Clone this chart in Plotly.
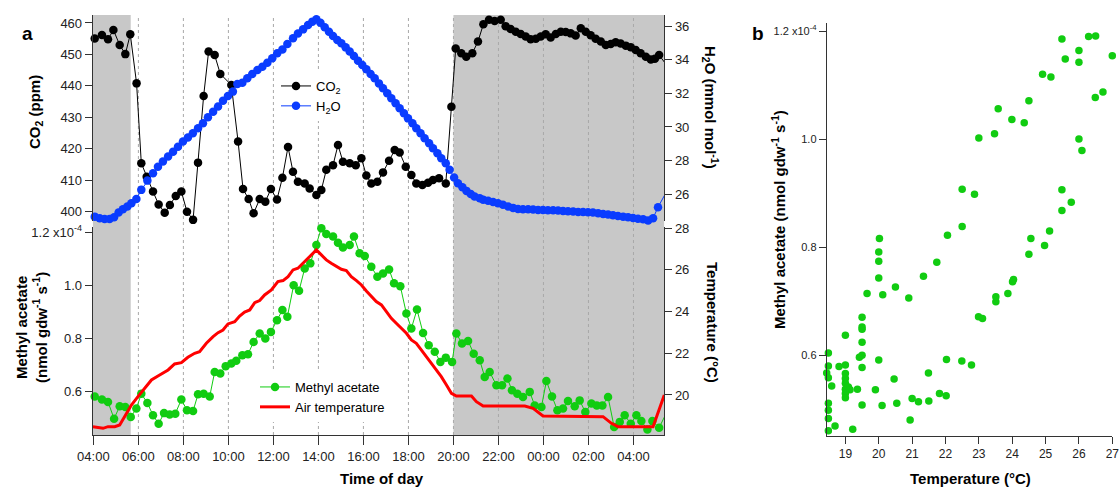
import plotly.graph_objects as go

W, H = 1120, 489
def px_x(p): return p / W
def px_y(p): return 1 - p / H

# ---------------- DATA (time = decimal hours since 00:00 of day 1; >24 = next day) ----
co2_time = [4.06, 4.38, 4.65, 4.89, 5.17, 5.42, 5.64, 5.92, 6.13, 6.37, 6.65, 6.90, 7.17, 7.40,
            7.66, 7.91, 8.16, 8.43, 8.65, 8.90, 9.12, 9.39, 9.64, 10.13, 10.43, 10.65, 10.90,
            11.12, 11.39, 11.64, 11.89, 12.16, 12.40, 12.65, 12.87, 13.09, 13.39, 13.61, 13.91,
            14.13, 14.35, 14.65, 14.87, 15.09, 15.39, 15.66, 15.91, 16.13, 16.35, 16.62, 16.87,
            17.14, 17.39, 17.61, 17.88, 18.13, 18.35, 18.62, 18.87, 19.09, 19.36, 19.66, 19.91,
            20.10, 20.35, 20.57, 20.84, 21.09, 21.33, 21.58, 21.83, 22.10, 22.32, 22.54, 22.77,
            22.99, 23.21, 23.43, 23.66, 23.88, 24.10, 24.32, 24.55, 24.77, 24.99, 25.21, 25.43,
            25.66, 25.88, 26.10, 26.32, 26.55, 26.77, 26.99, 27.21, 27.43, 27.66, 27.88, 28.10,
            28.32, 28.55, 28.77, 28.95, 29.14, 29.39]
co2_ppm = [455.1, 456.2, 454.8, 457.8, 453.0, 450.1, 456.4, 440.8, 415.4, 411.1, 406.4, 402.3, 399.7, 402.1,
           405.0, 406.4, 400.0, 397.4, 415.6, 436.8, 450.9, 449.8, 443.8, 440.3, 422.3, 407.2, 404.0,
           399.5, 404.0, 403.2, 407.2, 403.9, 410.8, 420.6, 412.7, 409.5, 409.0, 407.4, 405.3,
           406.9, 413.3, 414.8, 421.2, 415.9, 415.4, 414.8, 417.0, 411.5, 409.0, 409.5, 412.5,
           416.2, 419.6, 418.8, 414.3, 411.7, 409.0, 408.5, 409.2, 410.1, 410.6, 409.0, 433.4,
           451.9, 450.4, 449.3, 450.4, 454.1, 459.6, 461.0, 460.6, 461.0, 459.0, 458.1, 457.2,
           456.5, 455.7, 454.8, 455.0, 455.7, 456.4, 455.4, 456.5, 457.2, 457.1, 456.7, 456.0,
           458.3, 457.2, 456.1, 455.0, 454.1, 453.0, 453.3, 453.9, 453.5, 452.8, 452.3, 451.4,
           450.4, 449.3, 448.4, 448.6, 449.8, 447.4]

h2o_time = [4.06, 4.28, 4.50, 4.72, 4.92, 5.12, 5.31, 5.51, 5.69, 5.91, 6.13, 6.40, 6.65, 6.87,
            7.09, 7.32, 7.54, 7.76, 7.98, 8.20, 8.42, 8.65, 8.87, 9.09, 9.32, 9.54, 9.76, 9.98,
            10.20, 10.40, 10.62, 10.84, 11.06, 11.29, 11.51, 11.73, 11.95, 12.17, 12.40, 12.62,
            12.87, 13.09, 13.32, 13.54, 13.73, 13.91, 14.09, 14.28, 14.47, 14.65, 14.84, 15.02,
            15.21, 15.39, 15.58, 15.76, 15.95, 16.13, 16.32, 16.50, 16.69, 16.87, 17.06, 17.24,
            17.43, 17.61, 17.80, 17.98, 18.18, 18.35, 18.54, 18.72, 18.92, 19.09, 19.29, 19.46,
            19.66, 19.83, 20.03, 20.20, 20.40, 20.58, 20.77, 20.94, 21.17, 21.32, 21.54, 21.76,
            21.98, 22.20, 22.43, 22.65, 22.87, 23.09, 23.32, 23.54, 23.76, 23.98, 24.20, 24.43,
            24.65, 24.87, 25.09, 25.32, 25.54, 25.76, 25.98, 26.20, 26.43, 26.65, 26.87, 27.09,
            27.31, 27.54, 27.76, 27.98, 28.20, 28.43, 28.65, 28.87, 29.09, 29.39]
h2o_mmol = [24.67, 24.57, 24.53, 24.53, 24.63, 24.91, 25.11, 25.27, 25.47, 25.72, 26.26, 26.81, 27.25, 27.64,
            27.94, 28.24, 28.53, 28.83, 29.13, 29.37, 29.62, 29.92, 30.22, 30.57, 30.91, 31.21, 31.56, 31.84,
            32.10, 32.55, 32.63, 32.89, 33.15, 33.39, 33.58, 33.82, 34.08, 34.38, 34.61, 34.93,
            35.27, 35.56, 35.80, 36.06, 36.26, 36.40, 36.20, 35.92, 35.66, 35.41, 35.17, 34.97,
            34.73, 34.48, 34.22, 33.94, 33.68, 33.43, 33.15, 32.89, 32.59, 32.30, 32.00, 31.70,
            31.41, 31.11, 30.81, 30.51, 30.22, 29.92, 29.62, 29.33, 29.03, 28.73, 28.44, 28.14,
            27.84, 27.45, 26.99, 26.65, 26.42, 26.20, 26.02, 25.86, 25.76, 25.68, 25.62, 25.54,
            25.47, 25.37, 25.27, 25.19, 25.13, 25.11, 25.11, 25.09, 25.07, 25.07, 25.05, 25.05,
            25.03, 25.01, 24.99, 24.97, 24.95, 24.95, 24.93, 24.91, 24.87, 24.83, 24.79, 24.75,
            24.71, 24.67, 24.63, 24.59, 24.55, 24.51, 24.44, 24.57, 25.23, 25.96]

# methyl acetate emission, in units of 1e-4 nmol gdw-1 s-1
ma_time = [4.06, 4.38, 4.65, 4.92, 5.17, 5.42, 5.66, 5.91, 6.13, 6.40, 6.65, 6.90, 7.14, 7.39,
           7.64, 7.91, 8.16, 8.43, 8.65, 8.90, 9.17, 9.39, 9.64, 9.88, 10.13, 10.35, 10.62, 10.87,
           11.12, 11.39, 11.64, 11.89, 12.16, 12.40, 12.62, 12.90, 13.14, 13.39, 13.64, 13.91,
           14.13, 14.35, 14.65, 14.87, 15.09, 15.39, 15.58, 15.83, 16.06, 16.35, 16.62, 16.87,
           17.14, 17.36, 17.64, 17.91, 18.13, 18.38, 18.65, 18.90, 19.17, 19.42, 19.66, 19.94,
           20.13, 20.38, 20.65, 20.90, 21.17, 21.39, 21.61, 21.91, 22.16, 22.40, 22.60, 22.84,
           23.09, 23.39, 23.61, 23.91, 24.13, 24.38, 24.62, 24.87, 25.09, 25.39, 25.61, 25.86,
           26.13, 26.37, 26.62, 26.87, 27.14, 27.39, 27.61, 27.88, 28.13, 28.35, 28.62, 28.84,
           29.14, 29.39]
ma_flux = [0.582, 0.570, 0.561, 0.498, 0.545, 0.542, 0.504, 0.536, 0.592, 0.557, 0.511, 0.479, 0.519, 0.514,
           0.517, 0.570, 0.530, 0.527, 0.590, 0.592, 0.582, 0.674, 0.668, 0.696, 0.706, 0.716, 0.737, 0.741,
           0.787, 0.819, 0.800, 0.825, 0.869, 0.907, 0.882, 1.001, 0.980, 1.064, 1.083, 1.152,
           1.215, 1.194, 1.184, 1.161, 1.143, 1.152, 1.184, 1.121, 1.111, 1.070, 1.033, 1.045,
           1.060, 1.008, 0.997, 0.894, 0.838, 0.909, 0.821, 0.775, 0.750, 0.712, 0.728, 0.712,
           0.819, 0.781, 0.791, 0.743, 0.718, 0.655, 0.674, 0.624, 0.624, 0.649, 0.605, 0.592,
           0.580, 0.599, 0.548, 0.542, 0.640, 0.582, 0.530, 0.536, 0.565, 0.545, 0.567, 0.523,
           0.555, 0.548, 0.548, 0.580, 0.467, 0.486, 0.511, 0.479, 0.511, 0.489, 0.457, 0.489,
           0.464, 0.507]

temp_time = [3.98, 4.43, 4.65, 4.95, 5.17, 5.39, 5.69, 5.98, 6.35, 6.58, 6.87, 7.09, 7.32, 7.61,
             7.91, 8.20, 8.50, 8.72, 9.02, 9.32, 9.54, 9.76, 9.98, 10.28, 10.50, 10.72, 10.95, 11.17,
             11.39, 11.61, 11.91, 12.20, 12.43, 12.65, 12.87, 13.09, 13.32, 13.54, 13.76, 13.91,
             14.13, 14.35, 14.57, 14.80, 15.02, 15.24, 15.46, 15.69, 15.91, 16.13, 16.35, 16.57,
             16.80, 17.02, 17.24, 17.46, 17.69, 17.91, 18.13, 18.35, 18.57, 18.80, 19.02, 19.24,
             19.46, 19.69, 19.91, 20.13, 20.80, 21.02, 21.32, 23.17, 23.54, 23.98, 26.65, 27.02,
             27.31, 28.87, 29.37]
temp_c = [18.48, 18.40, 18.48, 18.48, 18.56, 18.96, 19.52, 19.92, 20.40, 20.72, 20.91, 21.04, 21.20, 21.49,
          21.55, 21.81, 22.00, 22.08, 22.48, 22.80, 22.99, 23.12, 23.41, 23.52, 23.79, 23.98, 24.08, 24.43,
          24.53, 24.80, 25.04, 25.44, 25.49, 25.68, 26.00, 26.08, 26.32, 26.56, 26.80, 26.96,
          26.72, 26.48, 26.32, 26.16, 26.03, 25.97, 25.68, 25.49, 25.28, 24.99, 24.75, 24.48,
          24.32, 24.00, 23.68, 23.44, 23.20, 22.96, 22.64, 22.48, 22.16, 21.84, 21.52, 21.20,
          20.88, 20.48, 20.08, 19.95, 19.95, 19.68, 19.47, 19.47, 19.36, 18.99, 18.96, 18.64,
          18.48, 18.48, 20.00]

# panel b: methyl acetate (1e-4 nmol gdw-1 s-1) vs temperature (degC)
scatter_temp = [26.85, 26.29, 26.50, 25.49, 26.00, 25.59, 26.00, 27.00, 24.91, 25.16, 24.50, 23.58,
                23.99, 24.36, 26.72, 26.49, 23.00, 23.47, 26.00, 26.09, 22.50, 22.87, 25.49, 25.77,
                25.49, 22.50, 22.06, 20.02, 24.56, 25.12, 24.97, 24.50, 20.00, 20.00, 20.00, 19.65,
                20.12, 20.50, 21.34, 21.74, 20.90, 23.51, 23.51, 23.87, 24.01, 24.04, 22.99, 23.11,
                19.50, 19.50, 19.50, 19.50, 19.50, 19.42, 19.50, 19.50, 19.00, 19.00, 19.00, 19.00,
                19.00, 19.00, 19.00, 19.00, 19.09, 19.14, 19.36, 18.49, 18.49, 18.44, 18.49, 18.59,
                18.49, 18.49, 18.49, 18.49, 18.69, 18.81, 19.22, 20.00, 19.90, 20.10, 20.46, 20.54,
                21.00, 21.19, 20.94, 21.49, 21.50, 21.82, 22.02, 22.03, 22.49, 22.78]
scatter_ma = [1.216, 1.190, 1.191, 1.185, 1.164, 1.148, 1.142, 1.154, 1.120, 1.115, 1.071, 1.056,
              1.036, 1.030, 1.087, 1.077, 1.002, 1.010, 1.000, 0.979, 0.907, 0.898, 0.906, 0.883,
              0.868, 0.838, 0.822, 0.816, 0.816, 0.830, 0.803, 0.787, 0.791, 0.774, 0.743, 0.714,
              0.712, 0.726, 0.746, 0.772, 0.706, 0.699, 0.708, 0.714, 0.736, 0.740, 0.671, 0.668,
              0.670, 0.652, 0.648, 0.624, 0.600, 0.596, 0.577, 0.508, 0.637, 0.582, 0.566, 0.557,
              0.548, 0.537, 0.529, 0.521, 0.541, 0.536, 0.537, 0.604, 0.580, 0.567, 0.558, 0.543,
              0.511, 0.498, 0.483, 0.460, 0.469, 0.579, 0.463, 0.591, 0.536, 0.507, 0.556, 0.511,
              0.520, 0.514, 0.480, 0.567, 0.515, 0.529, 0.525, 0.592, 0.589, 0.582]

time_ticks = [4, 6, 8, 10, 12, 14, 16, 18, 20, 22, 24, 26, 28]
time_labels = ["04:00", "06:00", "08:00", "10:00", "12:00", "14:00", "16:00", "18:00",
               "20:00", "22:00", "00:00", "02:00", "04:00"]
night_periods = [(3.97, 5.66), (20.0, 29.37)]

co2_ticks = [400, 410, 420, 430, 440, 450, 460]
h2o_ticks = [26, 28, 30, 32, 34, 36]
ma_ticks = [0.6, 0.8, 1.0, 1.2]
ma_labels = ["0.6", "0.8", "1.0", "1.2 x10<sup>-4</sup>"]
temp_ticks = [20, 22, 24, 26, 28]
b_x_ticks = [19, 20, 21, 22, 23, 24, 25, 26, 27]

# ---------------- STYLE ----------------
FONT = "Liberation Sans, Arial, sans-serif"
BLACK, BLUE, GREEN, RED, GRAY = "#000000", "#0A3CFF", "#11CC11", "#FF0000", "#C8C8C8"
AX = "#333333"
MS = 8.5

fig = go.Figure()
fig.add_trace(go.Scatter(x=co2_time, y=co2_ppm, mode="lines+markers", name="CO<sub>2</sub>",
                         line=dict(color=BLACK, width=1), marker=dict(color=BLACK, size=MS),
                         xaxis="x", yaxis="y", legend="legend", cliponaxis=False))
fig.add_trace(go.Scatter(x=h2o_time, y=h2o_mmol, mode="lines+markers", name="H<sub>2</sub>O",
                         line=dict(color=BLUE, width=1), marker=dict(color=BLUE, size=MS),
                         xaxis="x", yaxis="y2", legend="legend", cliponaxis=False))
fig.add_trace(go.Scatter(x=ma_time, y=ma_flux, mode="lines+markers", name="Methyl acetate",
                         line=dict(color=GREEN, width=1), marker=dict(color=GREEN, size=MS),
                         xaxis="x", yaxis="y3", legend="legend2", cliponaxis=False))
fig.add_trace(go.Scatter(x=temp_time, y=temp_c, mode="lines", name="Air temperature",
                         line=dict(color=RED, width=3), xaxis="x", yaxis="y4", legend="legend2"))
fig.add_trace(go.Scatter(x=scatter_temp, y=scatter_ma, mode="markers", showlegend=False,
                         marker=dict(color=GREEN, size=7.5), xaxis="x2", yaxis="y5", cliponaxis=False))

shapes = []
for x0, x1 in night_periods:
    shapes.append(dict(type="rect", xref="x", yref="paper", x0=x0, x1=x1,
                       y0=px_y(435), y1=px_y(15), fillcolor=GRAY, line=dict(width=0), layer="below"))
for t in time_ticks[1:]:
    shapes.append(dict(type="line", xref="x", yref="paper", x0=t, x1=t,
                       y0=px_y(435), y1=px_y(17), line=dict(color="#A8A8A8", width=1, dash="dot"),
                       layer="below"))

axis_common = dict(showgrid=False, zeroline=False, showline=True, linecolor=AX, linewidth=1,
                   ticks="outside", tickcolor=AX, tickwidth=1, ticklen=7, automargin=False,
                   tickfont=dict(size=13, color="#222222", family=FONT))

fig.update_layout(
    width=W, height=H, autosize=False,
    margin=dict(l=0, r=0, t=0, b=0, pad=0, autoexpand=False),
    paper_bgcolor="white", plot_bgcolor="rgba(0,0,0,0)",
    font=dict(family=FONT, color="#000000"),
    shapes=shapes,
    xaxis=dict(axis_common, domain=[px_x(92.7), px_x(664.3)], range=[3.97, 29.37], anchor="y3",
               tickvals=time_ticks, ticktext=time_labels, ticklen=9),
    yaxis=dict(axis_common, domain=[px_y(221), px_y(15)], range=[397.04, 462.54], anchor="x",
               tickvals=co2_ticks),
    yaxis2=dict(axis_common, overlaying="y", side="right", anchor="x", range=[24.41, 36.654],
                tickvals=h2o_ticks),
    yaxis3=dict(axis_common, domain=[px_y(435), px_y(227)], range=[0.4366, 1.22], anchor="x",
                tickvals=ma_ticks, ticktext=ma_labels),
    yaxis4=dict(axis_common, overlaying="y3", side="right", anchor="x", range=[18.08, 28.06],
                tickvals=temp_ticks),
    xaxis2=dict(axis_common, domain=[px_x(826.7), px_x(1112.3)], range=[18.44, 27.0], anchor="y5",
                tickvals=b_x_ticks, tickfont=dict(size=12, color="#222222", family=FONT)),
    yaxis5=dict(axis_common, domain=[px_y(436), px_y(22.7)], range=[0.4504, 1.2154], anchor="x2",
                tickvals=ma_ticks, ticktext=ma_labels, tickfont=dict(size=11, color="#222222", family=FONT)),
    legend=dict(x=px_x(276), y=px_y(71), xanchor="left", yanchor="top", bgcolor="white",
                font=dict(size=13, family=FONT), itemwidth=30, tracegroupgap=0),
    legend2=dict(x=px_x(255), y=px_y(372), xanchor="left", yanchor="top", bgcolor="white",
                 font=dict(size=13, family=FONT), itemwidth=30, tracegroupgap=0),
)

def title(text, x, y, angle=0, size=15):
    fig.add_annotation(text=text, x=px_x(x), y=px_y(y), xref="paper", yref="paper",
                       showarrow=False, textangle=angle, xanchor="center", yanchor="middle",
                       font=dict(size=size, family=FONT, color="#000000"))

title("<b>a</b>", 27, 33, size=19)
title("<b>b</b>", 758, 33, size=19)
title("<b>CO<sub>2</sub> (ppm)</b>", 36, 112, -90)
title("<b>H<sub>2</sub>O (mmol mol<sup>-1</sup>)</b>", 711, 107, 90)
title("<b>Methyl acetate<br>(nmol gdw<sup>-1</sup> s<sup>-1</sup>)</b>", 31, 328, -90)
title("<b>Temperature (°C)</b>", 713, 322, 90)
title("<b>Time of day</b>", 382, 478)
title("<b>Temperature (°C)</b>", 970, 478)
title("<b>Methyl acetate (nmol gdw<sup>-1</sup> s<sup>-1</sup>)</b>", 779, 220, -90)

fig.write_html("out.html")
